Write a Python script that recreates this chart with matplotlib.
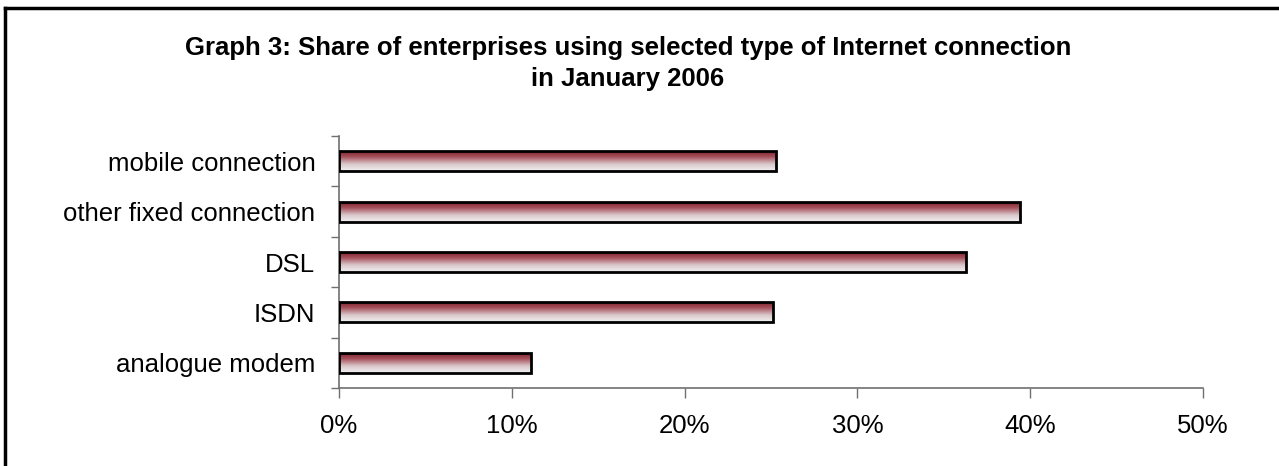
import numpy as np
import matplotlib
matplotlib.use("Agg")
import matplotlib.pyplot as plt
from matplotlib.colors import LinearSegmentedColormap
from matplotlib.lines import Line2D
from matplotlib.ticker import PercentFormatter, FixedLocator

plt.rcParams['font.family'] = ['Liberation Sans', 'DejaVu Sans']

# ── Data ─────────────────────────────────────────────────────────────────────
categories = ['analogue modem', 'ISDN', 'DSL', 'other fixed connection', 'mobile connection']
shares     = [11.1, 25.1, 36.3, 39.4, 25.3]   # % of enterprises
x_ticks    = [0, 10, 20, 30, 40, 50]

TITLE = "Graph 3: Share of enterprises using selected type of Internet connection\nin January 2006"

# maroon on top fading to pale grey at the bottom
grad_cmap = LinearSegmentedColormap.from_list(
    "bar_grad", ['#781824', '#a85560', '#d9c8cb', '#f2f0f1'])

W, H = 1279, 466
fig = plt.figure(figsize=(W / 100, H / 100), dpi=100)
ax = fig.add_axes([0.265, 0.1674, 0.6755, 0.5406])

ypos = np.arange(len(categories))
bar_h = 0.4
bars = ax.barh(ypos, shares, height=bar_h, color='none',
               edgecolor='black', linewidth=2, zorder=3)

grad = np.linspace(0, 1, 256).reshape(-1, 1)   # row 0 = dark, drawn on top
for b, y, v in zip(bars, ypos, shares):
    im = ax.imshow(grad, cmap=grad_cmap, aspect='auto', origin='upper',
                   extent=[0, v, y - bar_h / 2, y + bar_h / 2],
                   vmin=0, vmax=1, zorder=2, interpolation='bilinear')
    im.set_clip_path(b)

ax.set_xlim(0, 50)
ax.set_ylim(-0.5, len(categories) - 0.5)
ax.set_aspect('auto')

ax.xaxis.set_major_locator(FixedLocator(x_ticks))
ax.xaxis.set_major_formatter(PercentFormatter(xmax=100, decimals=0))

ax.set_yticks(ypos)
ax.set_yticklabels(categories)
ax.yaxis.set_minor_locator(FixedLocator(np.arange(-0.5, len(categories), 1.0)))

ax.tick_params(axis='x', which='major', direction='out', length=7, width=1,
               color='#707070', labelsize=18.5, pad=12)
ax.tick_params(axis='y', which='major', length=0, labelsize=18.5, pad=17)
ax.tick_params(axis='y', which='minor', direction='out', length=6, width=1,
               color='#707070')

for side in ['top', 'right']:
    ax.spines[side].set_visible(False)
for side in ['left', 'bottom']:
    ax.spines[side].set_color('#707070')
    ax.spines[side].set_linewidth(1.2)

fig.text(0.491, 0.864, TITLE, ha='center', va='center', fontsize=18.5,
         fontweight='bold', linespacing=1.35)

# outer frame: only the left and top edges are inside the picture
fx, fy = 5.5 / W, 1 - 7.5 / H
fig.lines.append(Line2D([fx, fx], [0, fy], transform=fig.transFigure,
                        color='black', linewidth=2.5))
fig.lines.append(Line2D([fx, 1], [fy, fy], transform=fig.transFigure,
                        color='black', linewidth=2.5, solid_capstyle='projecting'))

fig.savefig("out.png", dpi=100)
